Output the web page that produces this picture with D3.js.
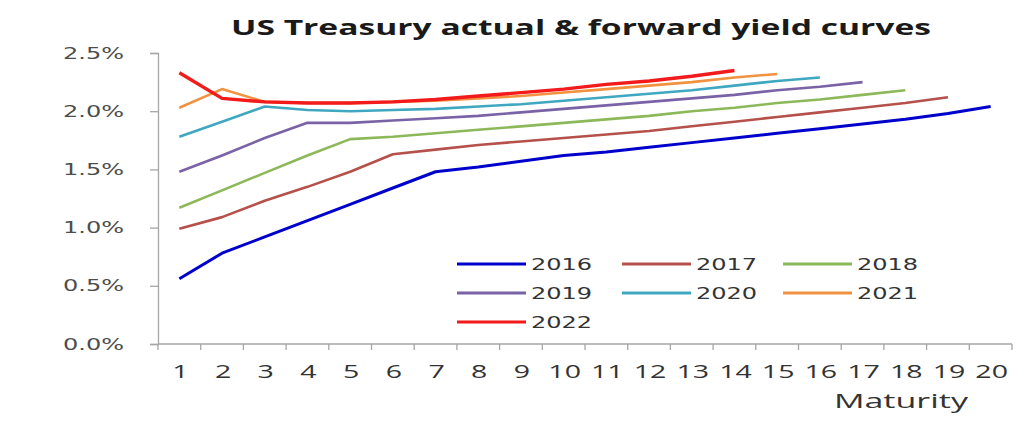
<!DOCTYPE html>
<html>
<head>
<meta charset="utf-8">
<script src="https://cdn.jsdelivr.net/npm/d3@7"></script>
<style>
  body { margin: 0; background: #fff; }
  svg { display: block; }
</style>
</head>
<body>
<div id="chart"></div>
<script>
// maturities 1..20
var maturities = d3.range(1, 21).map(String);
var years = ["2016", "2017", "2018", "2019", "2020", "2021", "2022"];
var yTicks = [0, 0.005, 0.01, 0.015, 0.02, 0.025];

// yield values (%), one per maturity
var y2016 = [0.56, 0.78, 0.92, 1.06, 1.20, 1.34, 1.48, 1.52, 1.57, 1.62, 1.65, 1.69, 1.73, 1.77, 1.81, 1.85, 1.89, 1.93, 1.98, 2.04];
var y2017 = [0.99, 1.09, 1.23, 1.35, 1.48, 1.63, 1.67, 1.71, 1.74, 1.77, 1.80, 1.83, 1.87, 1.91, 1.95, 1.99, 2.03, 2.07, 2.12];
var y2018 = [1.17, 1.32, 1.47, 1.62, 1.76, 1.78, 1.81, 1.84, 1.87, 1.90, 1.93, 1.96, 2.00, 2.03, 2.07, 2.10, 2.14, 2.18];
var y2019 = [1.48, 1.62, 1.77, 1.90, 1.90, 1.92, 1.94, 1.96, 1.99, 2.02, 2.05, 2.08, 2.11, 2.14, 2.18, 2.21, 2.25];
var y2020 = [1.78, 1.91, 2.04, 2.01, 2.00, 2.01, 2.02, 2.04, 2.06, 2.09, 2.12, 2.15, 2.18, 2.22, 2.26, 2.29];
var y2021 = [2.03, 2.19, 2.08, 2.07, 2.07, 2.08, 2.09, 2.11, 2.13, 2.16, 2.19, 2.22, 2.25, 2.29, 2.32];
var y2022 = [2.33, 2.11, 2.08, 2.07, 2.07, 2.08, 2.10, 2.13, 2.16, 2.19, 2.23, 2.26, 2.30, 2.35];

var seriesValues = [y2016, y2017, y2018, y2019, y2020, y2021, y2022];
var colors = ["#0000CC", "#B5504A", "#8DB85A", "#7A62A6", "#3FA8C0", "#F0923F", "#F21A1A"];
var widths = [3, 2.6, 2.6, 2.6, 2.6, 2.6, 3.4];

// the reference is stretched sideways, so text gets widened too
var STRETCH = 1.5;

var W = 1028, H = 424;
var plotLeft = 158, plotRight = 1012, plotTop = 53, plotBottom = 344;

var svg = d3.select("#chart").append("svg")
    .attr("width", W)
    .attr("height", H);

var x = d3.scaleBand().domain(maturities).range([plotLeft, plotRight]).padding(0);
var y = d3.scaleLinear().domain([0, 0.025]).range([plotBottom, plotTop]);

function widen(sel, k) {
    k = k || STRETCH;
    sel.each(function() {
        var len = this.getComputedTextLength();
        d3.select(this).attr("textLength", len * k).attr("lengthAdjust", "spacingAndGlyphs");
    });
}

// title
svg.append("text")
    .attr("x", 581).attr("y", 35)
    .attr("text-anchor", "middle")
    .style("font-family", "'Open Sans', sans-serif")
    .style("font-weight", "bold")
    .style("font-size", "21px")
    .style("fill", "#1a1a1a")
    .text("US Treasury actual & forward yield curves")
    .call(widen, 1.6);

// y axis
var yAxis = svg.append("g")
    .attr("transform", "translate(" + plotLeft + ",0)")
    .call(d3.axisLeft(y).tickValues(yTicks).tickSize(8).tickPadding(26)
        .tickFormat(d3.format(".1%")));
yAxis.select(".domain").attr("stroke", "#a6a6a6").attr("stroke-width", 1.3);
yAxis.selectAll(".tick line").attr("stroke", "#a6a6a6").attr("stroke-width", 1.3);
yAxis.selectAll(".tick text")
    .style("font-family", "'DejaVu Sans', sans-serif")
    .style("font-size", "16px")
    .style("fill", "#4d4d4d")
    .call(widen);

// x axis, ticks on band boundaries
var xAxis = svg.append("g")
    .attr("transform", "translate(0," + plotBottom + ")");
xAxis.append("line")
    .attr("x1", plotLeft).attr("x2", plotRight)
    .attr("stroke", "#a6a6a6").attr("stroke-width", 1.3);
xAxis.selectAll(".bt")
    .data(maturities.concat(["end"]))
    .enter().append("line")
    .attr("x1", function(d) { return d === "end" ? plotRight : x(d); })
    .attr("x2", function(d) { return d === "end" ? plotRight : x(d); })
    .attr("y1", 0).attr("y2", 6)
    .attr("stroke", "#a6a6a6").attr("stroke-width", 1.3);
xAxis.selectAll(".lbl")
    .data(maturities)
    .enter().append("text")
    .attr("x", function(d) { return x(d) + x.bandwidth() / 2 + 1; })
    .attr("y", 34)
    .attr("text-anchor", "middle")
    .style("font-family", "'Open Sans', sans-serif")
    .style("font-size", "19px")
    .style("fill", "#333")
    .text(function(d) { return d; })
    .call(widen);

svg.append("text")
    .attr("x", 968).attr("y", 408)
    .attr("text-anchor", "end")
    .style("font-family", "'Open Sans', sans-serif")
    .style("font-size", "20px")
    .style("fill", "#333")
    .text("Maturity")
    .call(widen, 1.7);

// lines
var line = d3.line()
    .x(function(d, i) { return x(maturities[i]) + x.bandwidth() / 2; })
    .y(function(d) { return y(d / 100); });

svg.selectAll(".curve")
    .data(seriesValues)
    .enter().append("path")
    .attr("class", "curve")
    .attr("fill", "none")
    .attr("stroke", function(d, i) { return colors[i]; })
    .attr("stroke-width", function(d, i) { return widths[i]; })
    .attr("stroke-linejoin", "round")
    .attr("d", line);

// legend
var legX = [457, 622, 783];
var legY = [264, 293, 322];
var leg = svg.selectAll(".leg")
    .data(years)
    .enter().append("g")
    .attr("transform", function(d, i) {
        return "translate(" + legX[i % 3] + "," + legY[Math.floor(i / 3)] + ")";
    });
leg.append("line")
    .attr("x1", 0).attr("x2", 69)
    .attr("stroke", function(d, i) { return colors[i]; })
    .attr("stroke-width", 3);
leg.append("text")
    .attr("x", 74).attr("y", 6)
    .style("font-family", "'DejaVu Sans', sans-serif")
    .style("font-size", "16px")
    .style("fill", "#333")
    .text(function(d) { return d; })
    .call(widen);
</script>
</body>
</html>
